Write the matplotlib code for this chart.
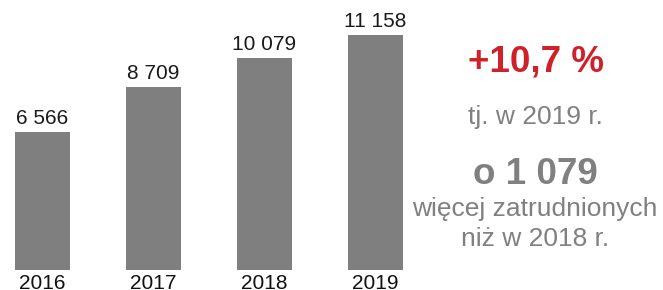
import matplotlib
matplotlib.use("Agg")
import matplotlib.pyplot as plt

years = ["2016", "2017", "2018", "2019"]
employees = [6566, 8709, 10079, 11158]
value_labels = ["6 566", "8 709", "10 079", "11 158"]

plt.rcParams['font.family'] = ['Liberation Sans', 'DejaVu Sans']

fig = plt.figure(figsize=(6.63, 2.90), dpi=100)
ax = fig.add_axes([0, 20 / 290, 420 / 663, 270 / 290])

x = range(len(years))
bars = ax.bar(x, employees, width=0.495, color="#7f7f7f")
for b, lab in zip(bars, value_labels):
    ax.text(b.get_x() + b.get_width() / 2, b.get_height() + 180, lab,
            ha="center", va="bottom", fontsize=15, color="#1a1a1a")

ax.set_xlim(-0.383, 3.401)
ax.set_ylim(0, 12820)
ax.set_xticks(list(x))
ax.set_xticklabels(years, fontsize=15, color="#111111")
ax.tick_params(axis="x", length=0, pad=3)
ax.set_yticks([])
for s in ax.spines.values():
    s.set_visible(False)

# text block on the right
gray = "#808080"
fig.text(536 / 663, 1 - 62 / 290, "+10,7 %", ha="center", va="center",
         fontsize=26.5, fontweight="bold", color="#d0202a")
fig.text(535 / 663, 1 - 117 / 290, "tj. w 2019 r.", ha="center", va="center",
         fontsize=19, color=gray)
fig.text(535 / 663, 1 - 174 / 290, "o 1 079", ha="center", va="center",
         fontsize=26.5, fontweight="bold", color=gray)
fig.text(535 / 663, 1 - 209 / 290, "więcej zatrudnionych", ha="center", va="center",
         fontsize=19, color=gray)
fig.text(535 / 663, 1 - 239 / 290, "niż w 2018 r.", ha="center", va="center",
         fontsize=19, color=gray)

fig.savefig("out.png", dpi=100)
